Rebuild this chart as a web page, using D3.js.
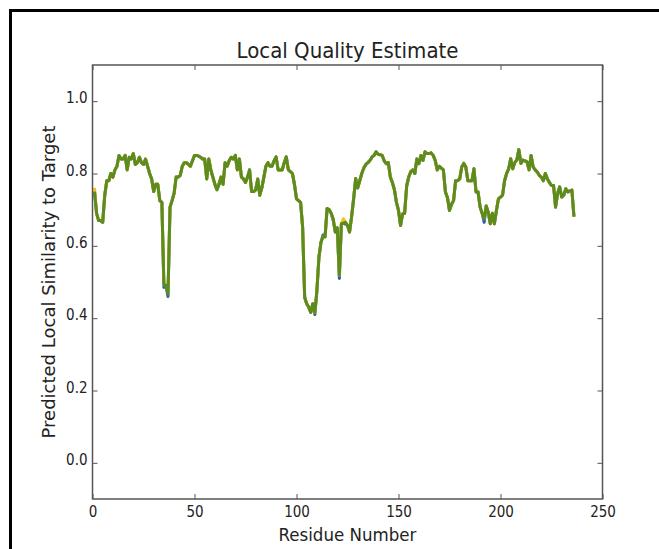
<!DOCTYPE html>
<html>
<head>
    <title>Local Quality Estimate</title>
    <style>
        body {
            margin: 0;
            background: #ffffff;
        }

        .tick text {
            font-family: "DejaVu Sans Condensed", "DejaVu Sans", sans-serif;
            font-size: 15px;
            fill: #222222;
        }

        .axis-label {
            font-family: "DejaVu Sans Condensed", "DejaVu Sans", sans-serif;
            font-size: 18.5px;
            fill: #222222;
        }
    </style>
    <script src="https://d3js.org/d3.v7.min.js"></script>
</head>
<body>
    <div id="chart"></div>

    <script>
        // predicted local similarity per residue (residues 1..236), green model
        var greenValues = [
            0.75, 0.69, 0.67, 0.67, 0.665, 0.74, 0.78, 0.78, 0.80, 0.79,
            0.81, 0.82, 0.85, 0.84, 0.84, 0.85, 0.81, 0.845, 0.84, 0.855,
            0.825, 0.83, 0.845, 0.83, 0.825, 0.84, 0.82, 0.80, 0.785, 0.75,
            0.77, 0.77, 0.725, 0.72, 0.495, 0.49, 0.467, 0.707, 0.725, 0.745,
            0.79, 0.79, 0.795, 0.82, 0.83, 0.83, 0.825, 0.82, 0.835, 0.85,
            0.85, 0.848, 0.845, 0.84, 0.84, 0.785, 0.84, 0.81, 0.79, 0.77,
            0.755, 0.77, 0.79, 0.77, 0.83, 0.82, 0.835, 0.845, 0.84, 0.85,
            0.81, 0.84, 0.79, 0.785, 0.775, 0.79, 0.81, 0.75, 0.75, 0.755,
            0.785, 0.74, 0.76, 0.79, 0.82, 0.83, 0.82, 0.82, 0.835, 0.846,
            0.81, 0.81, 0.81, 0.83, 0.846, 0.81, 0.805, 0.80, 0.77, 0.73,
            0.725, 0.72, 0.652, 0.458, 0.44, 0.43, 0.416, 0.44, 0.416, 0.476,
            0.569, 0.61, 0.625, 0.625, 0.703, 0.70, 0.69, 0.675, 0.638, 0.65,
            0.518, 0.661, 0.663, 0.665, 0.657, 0.638, 0.68, 0.73, 0.786, 0.76,
            0.78, 0.80, 0.815, 0.825, 0.83, 0.836, 0.845, 0.85, 0.86, 0.853,
            0.852, 0.85, 0.835, 0.827, 0.83, 0.79, 0.775, 0.755, 0.72, 0.698,
            0.656, 0.688, 0.69, 0.765, 0.79, 0.805, 0.81, 0.80, 0.84, 0.827,
            0.85, 0.836, 0.86, 0.855, 0.855, 0.857, 0.85, 0.836, 0.81, 0.82,
            0.815, 0.81, 0.749, 0.733, 0.698, 0.715, 0.725, 0.78, 0.78, 0.785,
            0.818, 0.828, 0.818, 0.78, 0.78, 0.78, 0.813, 0.749, 0.749, 0.707,
            0.69, 0.675, 0.71, 0.693, 0.661, 0.69, 0.661, 0.698, 0.73, 0.735,
            0.74, 0.78, 0.80, 0.813, 0.841, 0.813, 0.83, 0.837, 0.866, 0.828,
            0.837, 0.835, 0.832, 0.81, 0.85, 0.818, 0.81, 0.804, 0.795, 0.79,
            0.78, 0.80, 0.785, 0.775, 0.767, 0.767, 0.707, 0.745, 0.763, 0.735,
            0.74, 0.758, 0.749, 0.752, 0.754, 0.681
        ];

        // the blue and yellow models follow the green one except at these residues
        var blueChanges = [[35, 0.485], [37, 0.46], [109, 0.41], [113, 0.63], [118, 0.67], [121, 0.51], [124, 0.66], [192, 0.665]];
        var yellowChanges = [[1, 0.76], [37, 0.475], [123, 0.675], [62, 0.775]];

        var xTicks = [0, 50, 100, 150, 200, 250];
        var yTicks = [0.0, 0.2, 0.4, 0.6, 0.8, 1.0];

        var residues = greenValues.map(function(v, i) { return i + 1; });

        function withChanges(changes) {
            var values = greenValues.slice();
            changes.forEach(function(c) { values[c[0] - 1] = c[1]; });
            return values;
        }

        var series = [
            { name: "blue", color: "#2b5ea8", values: withChanges(blueChanges) },
            { name: "yellow", color: "#f2c21b", values: withChanges(yellowChanges) },
            { name: "green", color: "#5b8c1c", values: greenValues }
        ];

        var margin = {top: 65, right: 56.5, bottom: 50, left: 92.5};
        var width = 659 - margin.left - margin.right;
        var height = 549 - margin.top - margin.bottom;

        var svg = d3.select("#chart").append("svg")
            .attr("width", 659)
            .attr("height", 549);

        // outer black frame
        svg.append("rect")
            .attr("x", 10.5)
            .attr("y", 10.5)
            .attr("width", 700)
            .attr("height", 700)
            .attr("fill", "none")
            .attr("stroke", "#000000")
            .attr("stroke-width", 3);

        var g = svg.append("g")
            .attr("transform", "translate(" + margin.left + "," + margin.top + ")");

        var x = d3.scaleLinear()
            .domain([0, 250])
            .range([0, width]);

        var y = d3.scaleLinear()
            .domain([-0.1, 1.1])
            .range([height, 0]);

        var line = d3.line()
            .x(function(d) { return x(d[0]); })
            .y(function(d) { return y(d[1]); });

        g.selectAll(".series")
            .data(series)
            .enter().append("path")
            .attr("class", "series")
            .attr("fill", "none")
            .attr("stroke", function(d) { return d.color; })
            .attr("stroke-width", 3)
            .attr("stroke-linejoin", "round")
            .attr("d", function(d) {
                return line(d.values.map(function(v, i) { return [residues[i], v]; }));
            });

        // axes with inward ticks on all four sides
        var xAxis = d3.axisBottom(x).tickValues(xTicks).tickSizeInner(-5).tickSizeOuter(0).tickPadding(7.5)
            .tickFormat(d3.format("d"));
        var yAxis = d3.axisLeft(y).tickValues(yTicks).tickSizeInner(-5).tickSizeOuter(0).tickPadding(5)
            .tickFormat(d3.format(".1f"));
        var xTop = d3.axisTop(x).tickValues(xTicks).tickSizeInner(-5).tickSizeOuter(0).tickFormat("");
        var yRight = d3.axisRight(y).tickValues(yTicks).tickSizeInner(-5).tickSizeOuter(0).tickFormat("");

        g.append("g").attr("transform", "translate(0," + height + ")").call(xAxis);
        g.append("g").call(yAxis).selectAll(".tick text").attr("dy", "0.12em");
        g.append("g").call(xTop);
        g.append("g").attr("transform", "translate(" + width + ",0)").call(yRight);

        g.selectAll(".domain").remove();
        g.selectAll(".tick line").attr("stroke", "#555555").attr("stroke-width", 1);

        g.append("rect")
            .attr("width", width)
            .attr("height", height)
            .attr("fill", "none")
            .attr("stroke", "#555555")
            .attr("stroke-width", 1.5);

        g.append("text")
            .attr("class", "axis-label")
            .attr("x", width / 2)
            .attr("y", -7)
            .style("text-anchor", "middle")
            .style("font-size", "22px")
            .text("Local Quality Estimate");

        g.append("text")
            .attr("class", "axis-label")
            .attr("x", width / 2)
            .attr("y", height + 42)
            .style("text-anchor", "middle")
            .text("Residue Number");

        g.append("text")
            .attr("class", "axis-label")
            .attr("transform", "rotate(-90)")
            .attr("x", -height / 2)
            .attr("y", -37.5)
            .style("text-anchor", "middle")
            .style("font-family", "'DejaVu Sans', sans-serif")
            .style("font-size", "18px")
            .text("Predicted Local Similarity to Target");
    </script>
</body>
</html>
